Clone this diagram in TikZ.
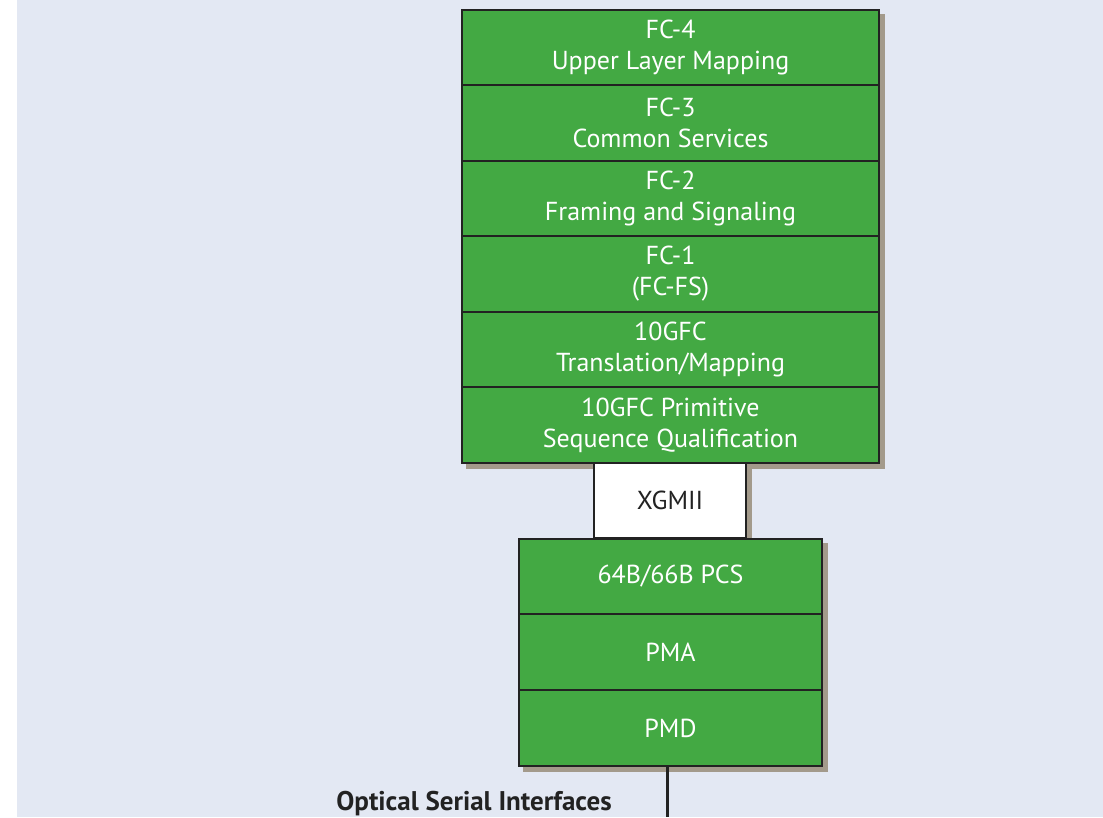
\documentclass[tikz,border=0pt]{standalone}
\usepackage{fontspec}
\setmainfont{PT Sans}
\usetikzlibrary{backgrounds}
\definecolor{bgcol}{HTML}{E3E8F3}
\definecolor{grn}{HTML}{43A943}
\definecolor{shd}{HTML}{A39A8B}
\definecolor{ink}{HTML}{222222}
\begin{document}
\begin{tikzpicture}[x=1pt,y=-1pt,
  layer/.style={draw=ink,line width=2pt,fill=grn,text=white,align=center,
    inner sep=0pt,font=\fontsize{26}{31}\selectfont},
  topl/.style={layer,minimum width=417pt,minimum height=75.5pt},
  botl/.style={layer,minimum width=303pt,minimum height=75.7pt},
  ifc/.style={draw=ink,line width=2pt,fill=white,text=ink,inner sep=0pt,
    minimum width=152pt,minimum height=75pt,font=\fontsize{26}{31}\selectfont},
  shadowbox/.style={fill=shd},
  wire/.style={draw=ink,line width=3pt}]
\useasboundingbox (0,0) rectangle (1103,817);

\node[topl] (fc4) at (670.5,47.5) {FC-4\\Upper Layer Mapping};
\node[topl] (fc3) at (670.5,123) {FC-3\\Common Services};
\node[topl] (fc2) at (670.5,198.5) {FC-2\\Framing and Signaling};
\node[topl] (fc1) at (670.5,274) {FC-1\\(FC-FS)};
\node[topl] (tr) at (670.5,349.5) {10GFC\\Translation/Mapping};
\node[topl] (psq) at (670.5,425) {10GFC Primitive\\Sequence Qualification};

\node[ifc] (xgmii) at (670,500.5) {XGMII};

\node[botl] (pcs) at (670.5,576.5) {64B/66B PCS};
\node[botl] (pma) at (670.5,652) {PMA};
\node[botl] (pmd) at (670.5,728) {PMD};

\begin{scope}[on background layer]
\fill[bgcol] (17,0) rectangle (1103,817);
\fill[shadowbox] ([shift={(5,5)}]fc4.north west) rectangle ([shift={(5,5)}]psq.south east);
\fill[shadowbox] ([shift={(5,5)}]xgmii.north west) rectangle ([shift={(5,5)}]xgmii.south east);
\fill[shadowbox] ([shift={(5,5)}]pcs.north west) rectangle ([shift={(5,5)}]pmd.south east);
\end{scope}

\coordinate (osi) at (667,817);
\draw[wire] (pmd.south -| osi) -- (osi);
\node[anchor=base east,text=ink,inner sep=0pt,font=\fontsize{27}{30}\selectfont\bfseries] (osil) at (612,810.5) {Optical Serial Interfaces};
\end{tikzpicture}
\end{document}
